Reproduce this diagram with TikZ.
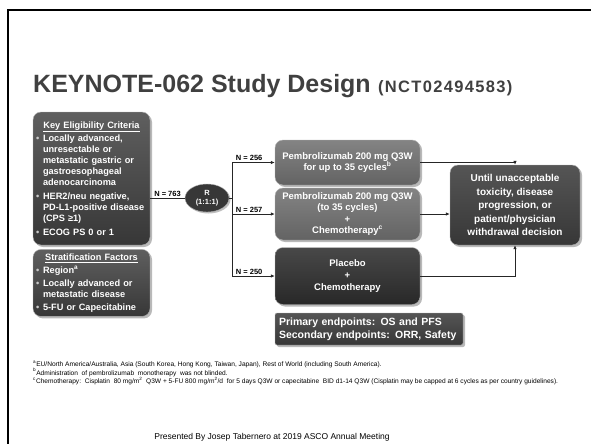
\documentclass[tikz,border=0pt]{standalone}
\usepackage{fontspec}
\setmainfont{Liberation Sans}
\usetikzlibrary{arrows.meta}
\usetikzlibrary{positioning}
\usetikzlibrary{shapes.geometric}
\usetikzlibrary{shadows}
\definecolor{boxdark}{HTML}{373737}
\definecolor{boxblack}{HTML}{282828}
\definecolor{boxmid}{HTML}{6E6E6E}
\definecolor{titlegray}{HTML}{404040}
\definecolor{bulgray}{HTML}{C8C8C8}
\newcommand{\bul}{\makebox[7pt][l]{\textcolor{bulgray}{\textbullet}}}
\newcommand{\ind}{\hspace*{7pt}}

\begin{document}
\begin{tikzpicture}[x=1pt, y=-1pt,
box/.style={rectangle, rounded corners=8pt, draw=gray!60, thin, text=white, inner sep=2pt,
  drop shadow={shadow xshift=2pt, shadow yshift=-2pt, opacity=0.55}},
critbox/.style={box, top color=boxdark!80!white, bottom color=boxdark, minimum width=117pt,
  text width=111pt, align=left, font=\bfseries\fontsize{9.2}{11}\selectfont},
armbox/.style={box, top color=boxmid!85!white, bottom color=boxmid!90!black, minimum width=145pt,
  align=center, font=\bfseries\fontsize{9.5}{11.5}\selectfont},
placebox/.style={box, top color=boxblack!85!white, bottom color=boxblack, minimum width=145pt,
  align=center, font=\bfseries\fontsize{9.5}{12}\selectfont},
endbox/.style={box, top color=boxdark!85!white, bottom color=boxdark, minimum width=130pt,
  align=center, font=\bfseries\fontsize{10}{13.5}\selectfont},
randnode/.style={ellipse, draw=gray!60, thin, fill=boxdark, text=white, minimum width=44pt,
  minimum height=28pt, inner sep=0pt, align=center, font=\bfseries\fontsize{7.5}{9}\selectfont,
  drop shadow={shadow xshift=1.5pt, shadow yshift=-1.5pt, opacity=0.5}},
nlabel/.style={font=\bfseries\fontsize{7.5}{9}\selectfont, inner sep=1.5pt},
line/.style={draw=black!85, line width=0.8pt},
arr/.style={line, -{Latex[length=4pt, width=3.5pt]}},
note/.style={anchor=west, inner sep=0pt, font=\fontsize{6.6}{7}\selectfont},
]
\useasboundingbox (0,0) rectangle (591,444);
\fill[white] (0,0) rectangle (591,444);
\draw[line width=2pt] (591,10) -- (8,10) -- (8,444);

\node[anchor=base west, inner sep=0pt, text=titlegray] (title) at (33,92)
  {\bfseries\fontsize{25}{30}\selectfont KEYNOTE-062 Study Design};
\node[inner sep=0pt, text=titlegray, right=7pt of title.base east, anchor=base west] (nct)
  {\bfseries\fontsize{16.5}{18}\selectfont\addfontfeature{LetterSpace=8}(NCT02494583)};

\node[critbox, minimum height=133pt] (elig) at (91.5,178.5) {%
  \makebox[111pt]{\underline{Key Eligibility Criteria}}\\[2pt]
  \bul Locally advanced,\\ \ind unresectable or\\ \ind metastatic gastric or\\
  \ind gastroesophageal\\ \ind adenocarcinoma\\[3pt]
  \bul HER2/neu negative,\\ \ind PD-L1-positive disease\\ \ind (CPS ≥1)\\[3pt]
  \bul ECOG PS 0 or 1};
\node[critbox, minimum height=67pt, below=4pt of elig] (strat) {%
  \makebox[111pt]{\underline{Stratification Factors}}\\[2pt]
  \bul Region\textsuperscript{a}\\[2pt]
  \bul Locally advanced or\\ \ind metastatic disease\\[2pt]
  \bul 5-FU or Capecitabine};

\node[randnode] (rand) at (207,198) {R\\(1:1:1)};

\node[armbox, minimum height=45pt] (armA) at (347.5,162.5)
  {Pembrolizumab 200 mg Q3W\\for up to 35 cycles\textsuperscript{b}};
\node[armbox, minimum height=52pt] (armB) at (347.5,214)
  {Pembrolizumab 200 mg Q3W\\(to 35 cycles)\\+\\Chemotherapy\textsuperscript{c}};
\node[placebox, minimum height=57pt] (armC) at (347.5,276)
  {Placebo\\+\\Chemotherapy};
\node[endbox, minimum height=80pt] (until) at (515,205)
  {Until unacceptable\\toxicity, disease\\progression, or\\patient/physician\\withdrawal decision};
\node[box, top color=boxdark!85!white, bottom color=boxdark, rounded corners=2pt, minimum width=188pt,
  minimum height=32pt, text width=180pt, align=left, font=\bfseries\fontsize{10.5}{13}\selectfont]
  (endp) at (369,329) {Primary endpoints: OS and PFS\\Secondary endpoints: ORR, Safety};

\coordinate (spine) at (232,198);
\draw[line] (elig.east |- rand) -- node[nlabel, above]{N = 763} (rand.west);
\draw[line] (rand.east) -- (spine);
\draw[line] (spine |- armA) -- (spine |- armC);
\draw[arr] (spine |- armA) -- node[nlabel, above, pos=0.4]{N = 256} (armA.west);
\draw[arr] (spine |- armB) -- node[nlabel, above, pos=0.4]{N = 257} (armB.west);
\draw[arr] (spine |- armC) -- node[nlabel, above, pos=0.4]{N = 250} (armC.west);
\draw[arr] (armA.east) -| (until.north);
\draw[arr] (armB.east) -- (until.west |- armB.east);
\draw[arr] (armC.east) -| (until.south);

\node[note] (fa) at (33,364) {\textsuperscript{a}EU/North America/Australia, Asia (South Korea, Hong Kong, Taiwan, Japan), Rest of World (including South America).};
\node[note, below=0.8pt of fa.south west, anchor=north west] (fb) {\textsuperscript{b}Administration\ \ of pembrolizumab\ \ monotherapy\ \ was not blinded.};
\node[note, below=0.8pt of fb.south west, anchor=north west] (fc) {\textsuperscript{c}Chemotherapy:\ \ Cisplatin\ \ 80 mg/m\textsuperscript{2}\ \ Q3W + 5-FU 800 mg/m\textsuperscript{2}/d\ \ for 5 days Q3W or capecitabine\ \ BID d1-14 Q3W (Cisplatin may be capped at 6 cycles as per country guidelines).};

\node[font=\fontsize{8.5}{10}\selectfont, inner sep=0pt] (pres) at (272,437)
  {Presented By Josep Tabernero at 2019 ASCO Annual Meeting};
\end{tikzpicture}
\end{document}
